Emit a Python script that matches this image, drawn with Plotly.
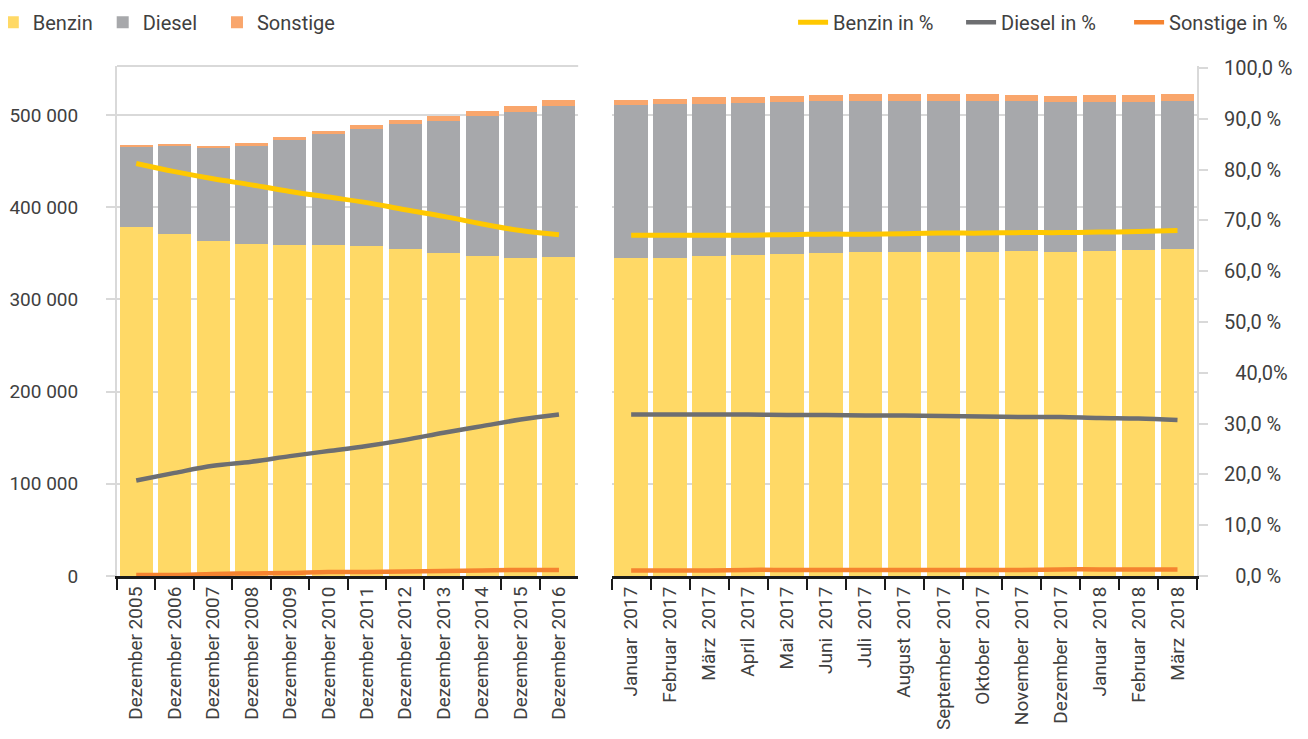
import plotly.graph_objects as go

# categories
years = ["Dezember 2005", "Dezember 2006", "Dezember 2007", "Dezember 2008",
         "Dezember 2009", "Dezember 2010", "Dezember 2011", "Dezember 2012",
         "Dezember 2013", "Dezember 2014", "Dezember 2015", "Dezember 2016"]
months = ["Januar \u20092017", "Februar \u20092017", "März \u20092017", "April \u20092017",
          "Mai \u20092017", "Juni \u20092017", "Juli \u20092017", "August \u20092017",
          "September \u20092017", "Oktober \u20092017", "November \u20092017",
          "Dezember \u20092017", "Januar \u20092018", "Februar \u20092018", "März \u20092018"]

# stock (vehicles)
benzin_y = [378900, 371000, 363000, 359800, 359000, 359000, 357900, 354300, 350300, 347400, 345200, 346000]
diesel_y = [86400, 95700, 101600, 106900, 114300, 120100, 127300, 136300, 143600, 151900, 158400, 164100]
sonst_y = [1100, 800, 1800, 2600, 2800, 3900, 4000, 4300, 5400, 5400, 6200, 6500]

benzin_m = [345200, 345200, 347400, 348500, 349600, 350300, 351100, 351700, 351700, 351700, 352800, 351700, 352800, 353600, 355000]
diesel_m = [165300, 166400, 164900, 164200, 164200, 164600, 164400, 163800, 163200, 163200, 162100, 162100, 161000, 160200, 159900]
sonst_m = [5800, 5800, 6900, 7200, 7200, 6800, 6900, 6900, 7500, 7500, 6800, 7200, 7900, 7900, 8200]

# shares in %
benzin_pct_y = [81.2, 79.6, 78.2, 77.0, 75.7, 74.6, 73.5, 72.1, 70.8, 69.3, 68.0, 67.2]
diesel_pct_y = [18.8, 20.3, 21.7, 22.5, 23.6, 24.6, 25.6, 26.8, 28.2, 29.5, 30.8, 31.8]
sonst_pct_y = [0.2, 0.2, 0.4, 0.5, 0.6, 0.8, 0.8, 0.9, 1.0, 1.1, 1.2, 1.2]

benzin_pct_m = [67.1, 67.1, 67.1, 67.1, 67.2, 67.3, 67.3, 67.4, 67.5, 67.5, 67.6, 67.6, 67.7, 67.8, 68.0]
diesel_pct_m = [31.8, 31.8, 31.8, 31.8, 31.7, 31.7, 31.6, 31.6, 31.5, 31.4, 31.3, 31.3, 31.1, 31.0, 30.7]
sonst_pct_m = [1.1, 1.1, 1.1, 1.2, 1.2, 1.2, 1.2, 1.2, 1.2, 1.2, 1.2, 1.3, 1.3, 1.3, 1.3]

left_ticks = [0, 100000, 200000, 300000, 400000, 500000]
left_labels = ["0", "100 000", "200 000", "300 000", "400 000", "500 000"]
pct_ticks = [0, 10, 20, 30, 40, 50, 60, 70, 80, 90, 100]
pct_labels = ["\u20070,0 %", "10,0 %", "20,0 %", "30,0 %", "\u200740,0%", "50,0 %",
              "60,0 %", "70,0 %", "80,0 %", "90,0 %", "100,0 %"]

FONT = "Roboto, sans-serif"
TXT = "#404040"
GRID = "#d9d9d9"
C_BENZIN, C_DIESEL, C_SONST = "#ffd966", "#a7a8ab", "#f9a66c"
L_BENZIN, L_DIESEL, L_SONST = "#ffc800", "#6d6e71", "#f5832f"

fig = go.Figure()

# trailing spaces only widen the legend entries a little
bars = [("Benzin\u00a0", benzin_y, benzin_m, C_BENZIN),
        ("Diesel\u00a0\u00a0\u00a0", diesel_y, diesel_m, C_DIESEL),
        ("Sonstige", sonst_y, sonst_m, C_SONST)]
for name, vy, vm, col in bars:
    fig.add_trace(go.Bar(x=years, y=vy, name=name, marker_color=col, marker_line_width=0,
                         legendgroup=name, legend="legend", xaxis="x", yaxis="y"))
    fig.add_trace(go.Bar(x=months, y=vm, name=name, marker_color=col, marker_line_width=0,
                         legendgroup=name, showlegend=False, xaxis="x2", yaxis="y2"))

lines = [("Benzin in %", benzin_pct_y, benzin_pct_m, L_BENZIN, 5),
         ("Diesel in %", diesel_pct_y, diesel_pct_m, L_DIESEL, 4.5),
         ("Sonstige in %", sonst_pct_y, sonst_pct_m, L_SONST, 4.5)]
for name, py, pm, col, w in lines:
    fig.add_trace(go.Scatter(x=years, y=py, name=name, mode="lines",
                             line=dict(color=col, width=w, shape="spline"),
                             legendgroup=name, legend="legend2", xaxis="x", yaxis="y3"))
    fig.add_trace(go.Scatter(x=months, y=pm, name=name, mode="lines",
                             line=dict(color=col, width=w, shape="spline"),
                             legendgroup=name, showlegend=False, xaxis="x2", yaxis="y4"))

xcommon = dict(type="category", tickangle=-90, showline=True, linecolor="#1a1a1a", linewidth=3,
               ticks="outside", tickson="boundaries", ticklen=11, tickwidth=2, tickcolor="#1a1a1a",
               showgrid=False, automargin=False, tickfont=dict(size=19, color=TXT, family=FONT))
ymax = 553000
pmax = 100.4

# the page body adds an 8 px margin, so the figure is 8 px smaller
fig.update_layout(
    width=1300, height=731,
    margin=dict(l=109, r=111, t=58, b=163, autoexpand=False),
    paper_bgcolor="white", plot_bgcolor="white",
    barmode="stack", bargap=0.14,
    font=dict(family=FONT, color=TXT, size=20),
    xaxis=dict(domain=[0, 0.427], anchor="y", categoryorder="array", categoryarray=years, **xcommon),
    xaxis2=dict(domain=[0.458, 1], anchor="y2", categoryorder="array", categoryarray=months, **xcommon),
    yaxis=dict(range=[0, ymax], tickvals=left_ticks, ticktext=left_labels, showgrid=True,
               gridcolor=GRID, gridwidth=1.5, showline=True, linecolor=GRID, linewidth=2,
               ticks="outside", ticklen=9, tickcolor=GRID, tickwidth=1.5, zeroline=False,
               ticklabelstandoff=24, anchor="x", automargin=False,
               tickfont=dict(size=19, color=TXT)),
    yaxis2=dict(range=[0, ymax], tickvals=left_ticks, showticklabels=False, showgrid=True,
                gridcolor=GRID, gridwidth=1.5, zeroline=False, anchor="x2", automargin=False),
    yaxis3=dict(range=[0, pmax], overlaying="y", anchor="x", visible=False),
    yaxis4=dict(range=[0, pmax], overlaying="y2", anchor="x2", side="right",
                tickvals=pct_ticks, ticktext=pct_labels, showgrid=False, zeroline=False,
                showline=True, linecolor=GRID, linewidth=2, ticks="outside", ticklen=9,
                tickcolor=GRID, tickwidth=1.5, ticklabelstandoff=12, automargin=False,
                tickfont=dict(size=20, color=TXT)),
    legend=dict(orientation="h", x=-0.115, y=1.124, xanchor="left", yanchor="top",
                font=dict(size=20, color=TXT), bgcolor="rgba(0,0,0,0)",
                traceorder="normal"),
    legend2=dict(orientation="h", x=0.626, y=1.124, xanchor="left", yanchor="top",
                 font=dict(size=20, color=TXT), bgcolor="rgba(0,0,0,0)",
                 entrywidth=123, traceorder="normal"),
    shapes=[dict(type="line", xref="paper", yref="paper", x0=0, x1=0.427, y0=1, y1=1,
                 line=dict(color=GRID, width=2))],
)

fig.write_html("out.html")
